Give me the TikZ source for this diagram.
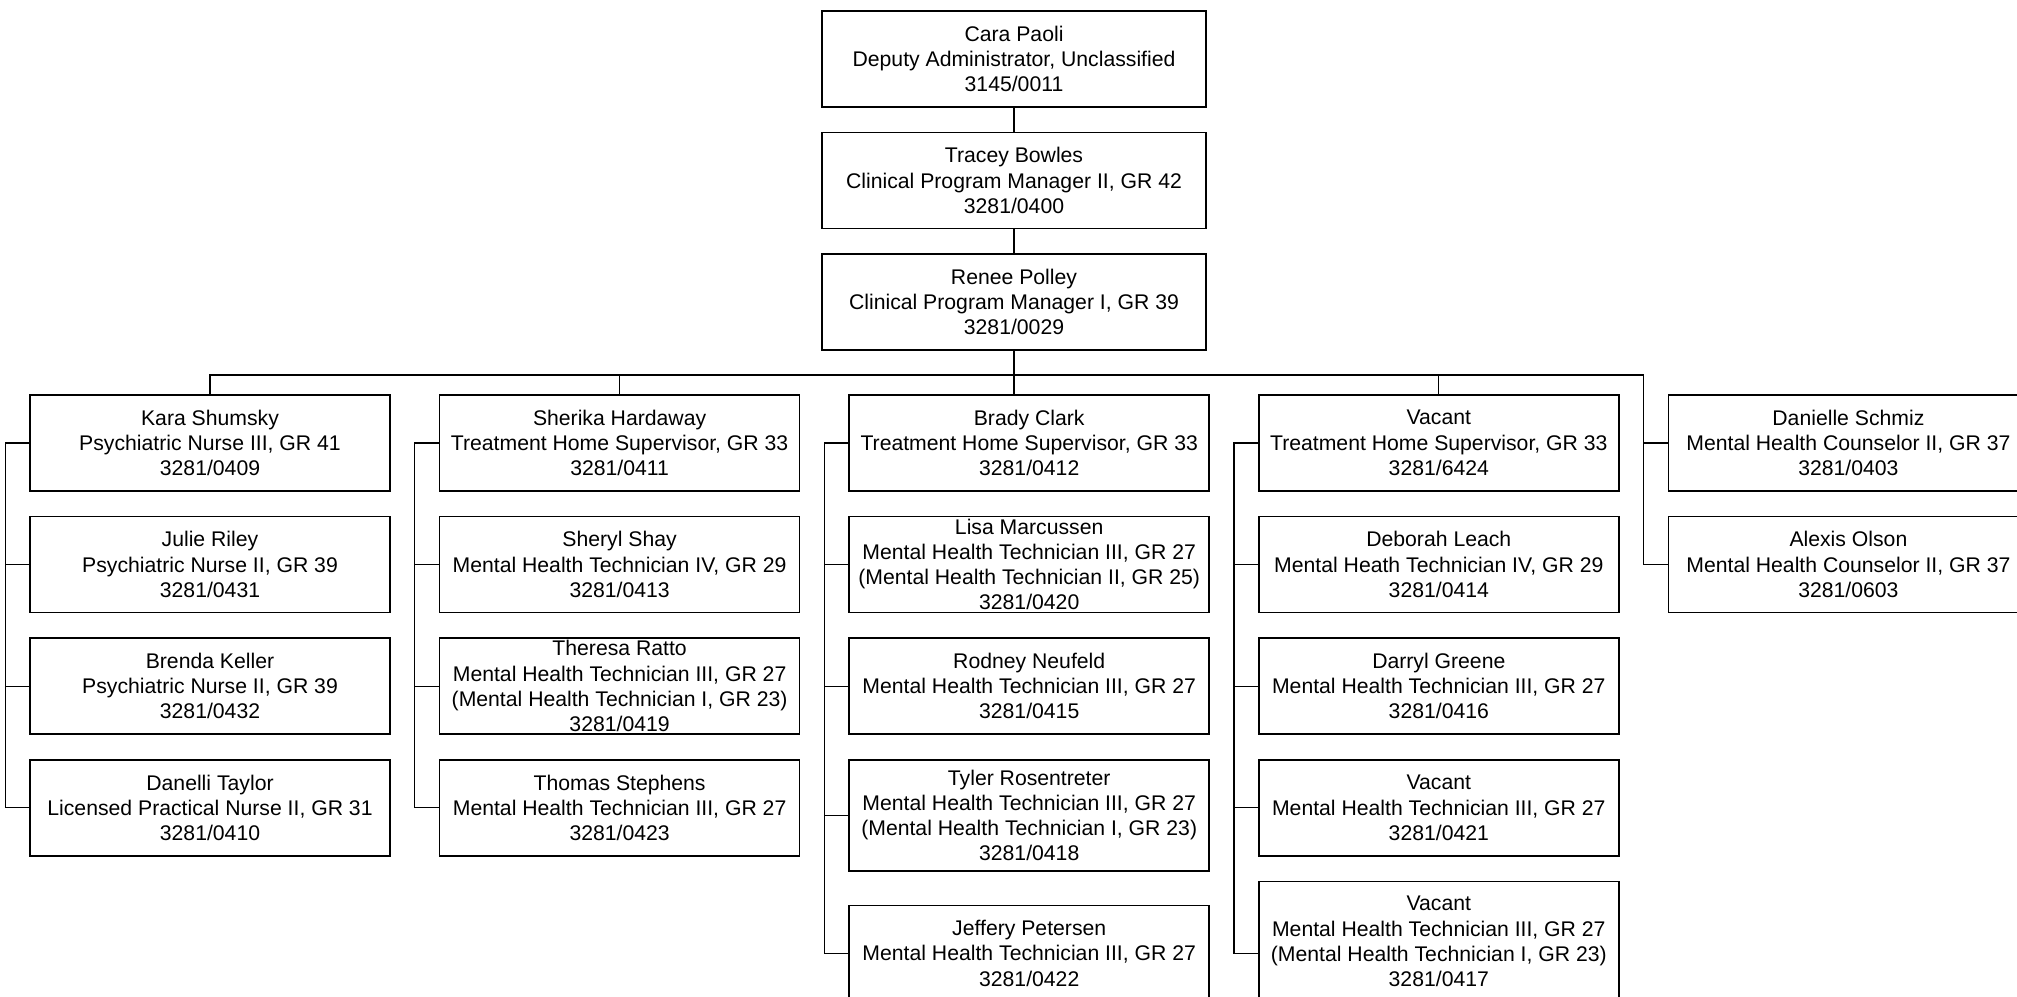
\documentclass[tikz,border=0pt]{standalone}
\usepackage{fontspec}
\setmainfont{Liberation Sans}
\usetikzlibrary{positioning,calc}

\begin{document}
\begin{tikzpicture}[
      node distance=12pt and 24pt,
      post/.style={draw=black, line width=0.8pt, minimum width=180pt, minimum height=48pt,
        inner xsep=2pt, inner ysep=1pt, align=center, font=\fontsize{10.6pt}{12.6pt}\selectfont},
      head/.style={post, minimum width=192pt},
      link/.style={draw=black, line width=0.6pt}
    ]
      \useasboundingbox (0,0) rectangle (1008.5pt,-498pt);
      % chain of command
      \node[head] (cara) at (507pt,-29.5pt) {Cara Paoli\\Deputy Administrator, Unclassified\\3145/0011};
      \node[head, below=of cara] (tracey) {Tracey Bowles\\Clinical Program Manager II, GR 42\\3281/0400};
      \node[head, below=of tracey] (renee) {Renee Polley\\Clinical Program Manager I, GR 39\\3281/0029};
      \coordinate (bus) at ($(renee.south)+(0,-12pt)$);

      % column heads
      \node[post] (kara) at (105pt,-221.5pt) {Kara Shumsky\\Psychiatric Nurse III, GR 41\\3281/0409};
      \node[post, right=of kara] (sherika) {Sherika Hardaway\\Treatment Home Supervisor, GR 33\\3281/0411};
      \node[post, right=of sherika] (brady) {Brady Clark\\Treatment Home Supervisor, GR 33\\3281/0412};
      \node[post, right=of brady] (vacths) {Vacant\\Treatment Home Supervisor, GR 33\\3281/6424};
      \node[post, right=of vacths] (danielle) {Danielle Schmiz\\Mental Health Counselor II, GR 37\\3281/0403};

      % nurses
      \node[post, below=of kara] (julie) {Julie Riley\\Psychiatric Nurse II, GR 39\\3281/0431};
      \node[post, below=of julie] (brenda) {Brenda Keller\\Psychiatric Nurse II, GR 39\\3281/0432};
      \node[post, below=of brenda] (danelli) {Danelli Taylor\\Licensed Practical Nurse II, GR 31\\3281/0410};

      % technicians
      \node[post, below=of sherika] (sheryl) {Sheryl Shay\\Mental Health Technician IV, GR 29\\3281/0413};
      \node[post, below=of sheryl] (theresa) {Theresa Ratto\\Mental Health Technician III, GR 27\\(Mental Health Technician I, GR 23)\\3281/0419};
      \node[post, below=of theresa] (thomas) {Thomas Stephens\\Mental Health Technician III, GR 27\\3281/0423};

      \node[post, below=of brady] (lisa) {Lisa Marcussen\\Mental Health Technician III, GR 27\\(Mental Health Technician II, GR 25)\\3281/0420};
      \node[post, below=of lisa] (rodney) {Rodney Neufeld\\Mental Health Technician III, GR 27\\3281/0415};
      \node[post, below=of rodney, minimum height=55.5pt] (tyler) {Tyler Rosentreter\\Mental Health Technician III, GR 27\\(Mental Health Technician I, GR 23)\\3281/0418};
      \node[post, below=16.5pt of tyler] (jeffery) {Jeffery Petersen\\Mental Health Technician III, GR 27\\3281/0422};

      \node[post, below=of vacths] (deborah) {Deborah Leach\\Mental Heath Technician IV, GR 29\\3281/0414};
      \node[post, below=of deborah] (darryl) {Darryl Greene\\Mental Health Technician III, GR 27\\3281/0416};
      \node[post, below=of darryl] (vacmht) {Vacant\\Mental Health Technician III, GR 27\\3281/0421};
      \node[post, below=of vacmht, minimum height=60pt] (vacmhti) {Vacant\\Mental Health Technician III, GR 27\\(Mental Health Technician I, GR 23)\\3281/0417};

      \node[post, below=of danielle] (alexis) {Alexis Olson\\Mental Health Counselor II, GR 37\\3281/0603};

      % connectors
      \draw[link] (cara) -- (tracey);
      \draw[link] (tracey) -- (renee);
      \draw[link] (renee) -- (bus);
      \draw[link] (kara.north) |- (bus);
      \draw[link] (sherika.north) |- (bus);
      \draw[link] (bus) -- (bus |- brady.north);
      \draw[link] (vacths.north) |- (bus);
      \draw[link] (bus) -| ([xshift=-12pt]alexis.west) -- (alexis.west);
      \draw[link] (danielle.west) -- ++(-12pt,0);

      \foreach \first/\last in {kara/danelli, sherika/thomas, brady/jeffery}
        \draw[link] (\first.west) -- ++(-12pt,0) |- (\last.west);
      \draw[link] (vacths.west) -- ++(-12pt,0) |- ([yshift=-6pt]vacmhti.west);
      \foreach \n in {julie, brenda, sheryl, theresa, lisa, rodney, tyler, deborah, darryl, vacmht}
        \draw[link] (\n.west) -- ++(-12pt,0);
    \end{tikzpicture}
\end{document}
